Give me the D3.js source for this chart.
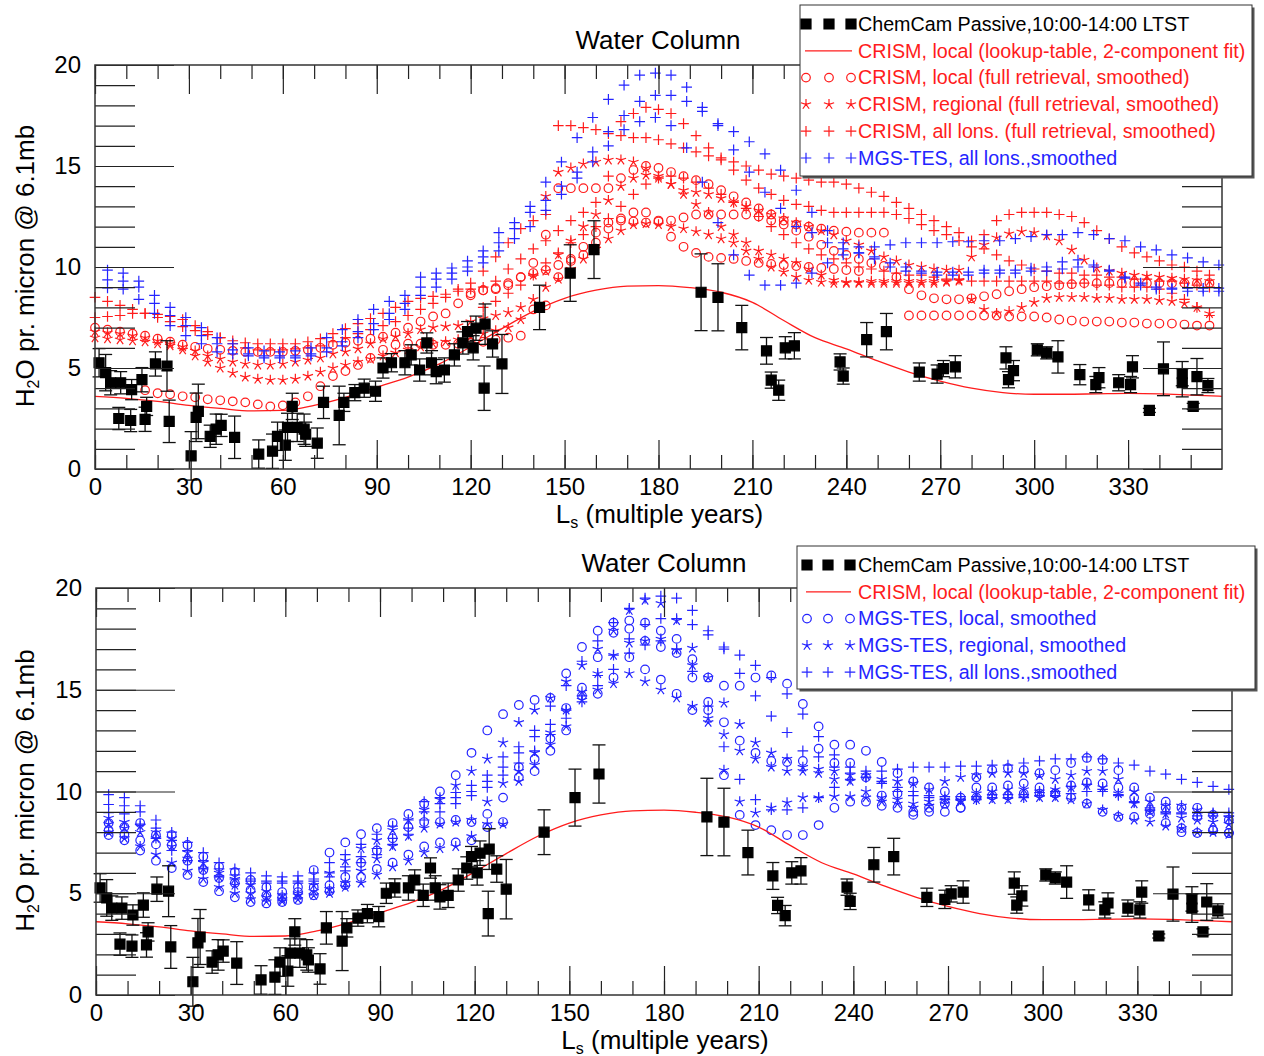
<!DOCTYPE html>
<html>
<head>
<meta charset="utf-8">
<script src="https://cdnjs.cloudflare.com/ajax/libs/d3/7.8.5/d3.min.js"></script>
<style>
body { margin:0; background:#fff; }
text { font-family: "Liberation Sans", Arial, Helvetica, sans-serif; }
</style>
</head>
<body>
<svg id="chart" width="1264" height="1056"></svg>
<script>
// ---- data ----
var lsCrism = d3.range(0, 360, 4);   // CRISM smoothed retrievals, every 4 deg Ls
var lsTes = d3.range(4, 360, 5);     // MGS-TES smoothed, every 5 deg Ls
var xTicks = [0, 30, 60, 90, 120, 150, 180, 210, 240, 270, 300, 330];
var yTicks = [0, 5, 10, 15, 20];

// ChemCam passive (Ls, value, error)
var ccLs = [1.3,3.4,5.0,8.2,11.7,15.0,7.6,11.4,16.5,16.0,19.3,23.0,23.7,30.7,32.3,33.0,36.8,38.7,40.3,44.6,
  52.3,56.7,58.3,60.8,63.0,61.5,64.6,66.8,67.3,71.0,73.0,78.0,79.5,83.0,86.0,89.6,92.0,94.7,99.0,101.0,
  103.7,106.0,107.5,109.0,111.6,114.8,117.5,119.0,121.7,124.6,120.8,127.0,124.3,130.0,142.0,151.8,159.4,193.6,199.0,206.6,
  214.5,216.0,218.4,220.5,223.4,238.0,239.0,246.5,252.8,263.3,269.0,271.0,274.8,291.0,293.4,291.8,301.0,304.0,307.6,314.6,
  319.7,320.7,327.0,330.8,331.4,336.8,341.3,347.3,347.3,350.8,352.0,355.5];
var ccVal = [5.26,4.77,4.27,4.27,3.93,4.42,2.5,2.4,3.1,2.46,5.2,5.1,2.36,0.65,2.56,2.85,1.62,1.97,2.16,1.57,
  0.74,0.88,1.62,1.18,3.1,2.06,2.06,1.97,1.72,1.28,3.3,2.65,3.3,3.78,4.0,3.85,5.0,5.26,5.26,5.65,
  4.9,6.24,5.26,4.82,4.9,5.65,6.24,6.8,6.97,7.17,6.0,6.19,4.0,5.2,8.0,9.7,10.86,8.75,8.5,7.0,
  5.85,4.4,3.9,6.0,6.1,5.3,4.6,6.4,6.8,4.8,4.7,4.97,5.06,5.5,4.87,4.42,5.9,5.75,5.55,4.67,
  4.18,4.52,4.27,4.18,5.06,2.9,4.96,4.72,4.27,3.1,4.57,4.13];
var ccErr = [0.7,0.9,0.6,0.55,0.5,0.6,0.55,0.55,0.45,0.6,0.6,1.25,1.05,1.2,1.2,1.35,0.55,0.75,0.55,1.05,
  0.7,0.85,0.7,0.75,0.65,0.7,0.7,0.75,0.6,0.75,0.8,1.45,0.45,0.4,0.45,0.5,0.5,0.45,0.6,0.5,
  0.55,0.5,0.6,0.6,0.6,0.55,0.55,0.5,0.6,1.0,0.6,0.65,1.1,1.46,1.1,1.4,1.43,1.9,1.66,1.1,
  0.66,0.4,0.5,0.55,0.65,0.4,0.4,0.85,0.9,0.45,0.45,0.4,0.55,0.55,0.5,0.4,0.3,0.3,0.8,0.5,
  0.4,0.5,0.4,0.4,0.55,0.1,1.33,0.6,0.7,0.15,0.9,0.35];

// CRISM local, lookup-table fit (smooth curve)
var lineLs = d3.range(0, 361, 10);
var lineVal = [3.6,3.5,3.35,3.15,3.0,2.88,2.9,3.15,3.55,4.05,4.55,5.2,6.05,6.95,7.8,8.45,8.85,9.05,9.08,8.98,
  8.75,8.25,7.35,6.5,5.95,5.35,4.8,4.35,4.0,3.78,3.7,3.7,3.72,3.74,3.72,3.66,3.6];

// CRISM all lons (plus), three years
var crismAllA = [8.5,8.3,8.1,7.9,7.7,7.5,7.3,7.05,6.85,6.65, 6.5,6.35,6.25,6.2,6.2,6.2,6.2,6.3,6.45,6.7,
  6.95,7.2,7.45,7.7,8.0,8.3,8.45,8.55,8.65,8.9, 9.2,9.8,10.5,11.2,11.9,12.3,12.6,17.0,17.0,16.9,
  16.8,16.6,16.5,16.4,16.4,16.3,16.1,15.9,15.7,15.5, 15.4,15.2,15.0,14.8,14.6,14.5,14.4,14.3,14.2,14.2,
  14.1,13.9,13.7,13.5,13.2,12.9,12.6,12.3,12.0,11.7, 11.3,10.9,10.6,10.3,10.1,9.9,9.8,9.7,9.7,9.6,
  9.6,9.5,9.5,9.4,9.4,9.3,9.3,9.2,9.1,9.0];
var crismAllB = [7.5,7.55,7.6,7.7,7.7,7.65,7.55,7.4,7.1,6.8, 6.5,6.2,6.0,5.9,5.9,5.9,5.95,6.0,6.1,6.3,
  6.5,6.7,6.9,7.1,7.3,7.6,7.9,8.2,8.5,8.8, 8.9,9.0,9.3,9.9,10.4,10.9,11.3,11.8,12.3,12.7,
  13.2,14.5,17.2,17.6,17.9,17.8,17.6,17.1,16.5,15.9, 15.3,14.8,14.3,13.9,13.6,13.3,13.1,13.0,12.8,12.7,
  12.7,12.7,12.7,12.7,12.6,12.4,12.1,11.8,11.6,11.3, 11.0,11.6,12.3,12.6,12.7,12.7,12.7,12.6,12.5,12.2,
  11.8,11.4,11.0,10.7,10.5,10.3,10.1,10.0,9.8,9.6];
var crismAllC = [null,null,null,null,null,null,null,null,null,null, null,null,null,null,null,null,null,null,null,null,
  null,null,null,null,null,null,null,null,null,null, null,8.0,8.3,8.7,9.1,9.6,10.2,10.7,11.2,11.6,
  12.0,12.4,13.0,13.6,14.1,14.4,14.5,14.4,14.2,13.9, 13.6,13.2,12.9,12.5,12.0,11.6,11.2,10.9,10.6,10.4,
  10.2,10.0,9.9,9.8,9.7,9.6,9.6,9.5,9.4,9.4, 9.3,9.3,9.3,9.3,9.3,9.3,9.3,9.2,9.2,9.2,
  9.1,9.1,9.0,9.0,9.0,8.9,8.7,8.4,8.0,7.6];

// CRISM local, full retrieval (circles), three years
var crismLocA = [7.0,6.9,6.8,6.7,6.6,6.45,6.3,6.15,6.05,5.95, 5.9,5.85,5.8,5.8,5.8,5.8,5.85,5.9,6.0,6.15,
  6.25,6.35,6.45,6.55,6.75,7.0,7.3,7.55,7.7,8.2, 8.6,8.85,8.95,9.1,9.5,10.2,11.6,13.9,13.9,13.9,
  13.9,13.9,14.4,14.8,15.0,14.9,14.7,14.5,14.3,14.1, 13.8,13.5,13.2,12.9,12.6,12.3,12.1,12.0,11.9,11.8,
  11.75,11.7,11.7,11.7,null,null,null,null,null,null, null,null,null,null,null,null,null,null,null,null,
  null,null,null,null,null,null,null,null,null,null];
var crismLocB = [null,null,null,null,3.9,3.75,3.7,3.6,3.55,3.45, 3.4,3.35,3.3,3.2,3.1,3.15,3.3,3.6,4.1,4.6,
  4.85,5.15,5.5,5.9,6.15,6.2,6.2,6.15,6.15,6.2, 6.25,6.3,6.4,6.5,6.6,7.9,8.1,9.5,10.4,11.0,
  11.7,12.2,12.3,12.25,12.2,12.25,12.3,12.45,12.6,12.6, 12.6,12.6,12.6,12.5,12.3,12.1,11.8,11.5,11.1,10.8,
  10.6,10.4,10.2,10.05,9.5,8.9,8.6,8.45,8.4,8.4, 8.45,8.55,8.65,8.8,8.9,9.0,9.05,9.1,9.15,9.2,
  9.2,9.2,9.2,9.2,9.2,9.2,9.2,9.2,9.2,9.2];
var crismLocC = [null,null,null,null,null,null,null,null,null,null, null,null,null,null,null,null,null,null,null,null,
  null,null,null,null,null,null,null,null,null,null, 8.7,8.85,8.9,9.2,9.5,9.7,9.85,10.1,10.3,10.6,
  11.2,11.9,12.4,12.7,12.7,12.3,11.5,11.0,10.7,10.5, 10.45,10.4,10.3,10.2,10.15,10.1,10.05,10.0,9.95,9.9,
  9.85,9.8,null,null,null,7.6,7.6,7.6,7.6,7.6, 7.6,7.6,7.6,7.55,7.55,7.55,7.5,7.4,7.35,7.3,
  7.3,7.3,7.25,7.25,7.2,7.2,7.2,7.15,7.1,7.1];

// CRISM regional (stars), three years
var crismRegA = [6.8,6.75,6.7,6.6,6.5,6.35,6.2,6.05,5.85,5.6, 5.45,5.3,5.2,5.15,5.15,5.2,5.3,5.4,5.5,5.7,
  5.8,5.95,6.2,6.45,6.55,6.7,6.9,7.0,7.05,7.1, 7.3,7.45,7.6,7.75,8.0,9.6,13.5,14.7,14.9,15.1,
  15.2,15.3,15.3,15.2,14.9,14.5,14.1,13.8,13.7,13.6, 13.4,13.2,13.0,12.8,12.6,12.4,12.2,12.0,11.8,11.6,
  11.3,11.1,10.8,10.5,10.3,10.1,10.0,9.9,9.85,9.85, 10.5,11.1,11.45,11.65,11.75,11.7,11.55,11.3,10.85,10.35,
  9.95,9.8,9.7,9.6,9.55,9.5,9.45,9.4,9.35,9.3];
var crismRegB = [6.5,6.45,6.4,6.35,6.3,6.2,6.1,5.9,5.6,5.3, 5.0,4.75,4.55,4.45,4.4,4.4,4.45,4.6,4.8,5.0,
  5.15,5.3,5.45,5.6,5.75,5.9,6.05,6.2,6.3,6.4, 6.55,6.7,6.85,7.0,7.4,8.4,9.8,10.6,11.3,12.0,
  12.6,13.3,14.0,14.4,14.55,14.4,14.1,13.6,13.1,12.7, 12.0,11.6,11.2,10.8,10.6,10.4,10.2,9.9,9.6,9.35,
  9.25,9.2,9.2,9.2,9.2,9.2,9.2,9.2,9.25,9.3, 8.4,7.9,7.7,7.8,8.0,8.25,8.45,8.5,8.5,8.5,
  8.45,8.45,8.4,8.4,8.4,8.35,8.3,8.2,8.0,7.7];
var crismRegC = [null,null,null,null,null,null,null,null,null,null, null,null,null,null,null,null,null,null,null,null,
  null,null,null,null,null,null,null,null,null,null, null,null,null,null,null,null,9.0,9.4,9.9,10.4,
  10.9,11.4,11.8,12.1,12.15,12.1,12.0,11.9,11.75,11.6, 11.4,11.2,10.8,10.4,10.0,9.75,9.5,9.35,9.25,9.2,
  9.2,9.25,9.3,9.3,9.3,9.3,9.3,9.3,9.3,9.35, null,null,null,null,null,null,null,null,null,null,
  null,null,null,null,null,null,null,null,null,null];

// MGS-TES all lons (plus), three years
var tesAllA = [9.85,9.7,9.3,8.6,8.0,7.5,7.0,6.5,6.2,6.0, 5.85,5.8,5.85,6.0,6.5,6.9,7.4,7.9,8.3,8.6,
  9.5,9.7,9.95,10.3,10.8,11.7,12.2,13.0,14.2,15.2, 16.4,17.4,18.3,19.0,19.5,19.6,19.5,18.9,17.9,17.1,
  16.7,16.2,15.6,14.8,13.8,12.7,11.8,11.2,11.0,11.0, 11.1,11.2,11.2,11.2,11.25,11.25,11.3,11.3,11.4,11.5,
  11.6,11.6,11.7,11.6,11.4,11.3,11.0,10.85,10.6,10.45, 10.25,10.1];
var tesAllB = [9.36,9.3,9.0,8.2,7.6,7.1,6.6,6.2,5.9,5.7, 5.6,5.6,5.6,5.7,6.0,6.3,6.8,7.2,7.7,8.2,
  9.0,9.4,9.7,10.0,10.5,11.2,11.9,12.7,13.3,14.0, 14.7,15.7,16.7,17.5,18.2,18.5,18.5,18.2,17.7,17.0,
  15.8,14.7,13.7,12.9,12.0,11.7,11.2,10.9,10.7,10.5, 10.2,10.0,9.8,9.75,9.75,9.75,9.85,9.85,9.85,9.95,
  10.0,10.25,10.35,10.1,9.85,9.45,9.1,8.9,8.95,8.95, 8.95,8.95];
var tesAllC = [8.96,8.9,8.4,7.7,7.1,6.6,6.2,5.8,5.7,5.6, 5.5,5.5,5.5,5.6,5.8,6.1,6.5,6.9,7.4,7.9,
  8.6,9.0,9.4,9.8,10.2,10.8,11.4,12.0,12.8,13.6, 14.4,15.2,16.0,16.8,17.2,17.4,17.0,15.9,14.2,12.2,
  10.6,9.6,9.1,9.1,9.2,9.7,10.2,10.6,10.7,10.4, 10.0,9.8,9.7,9.6,9.6,9.6,9.7,9.7,9.7,9.8,
  9.8,9.9,10.0,10.0,9.8,9.5,9.2,9.0,8.9,8.8, 8.8,8.8];

// MGS-TES local (circles), three years
var tesLocA = [8.45,8.26,8.45,7.86,7.86,7.37,6.8,6.3,6.04,5.65, 5.3,5.06,5.3,6.14,7.0,7.5,7.9,8.2,8.45,8.9,
  9.4,10.0,10.8,11.9,13.0,13.8,14.25,14.5,14.6,15.8, 17.1,17.9,18.3,18.4,18.3,17.9,17.5,16.5,15.6,15.2,
  15.2,15.6,15.7,15.3,14.3,13.2,12.3,12.3,12.0,11.45, 10.9,10.5,10.2,10.0,9.7,10.7,11.05,11.15,11.05,10.9,
  11.05,11.4,11.65,11.55,11.05,10.2,9.7,9.5,9.2,9.2, 8.85,8.6];
var tesLocB = [8.1,7.9,7.6,7.4,7.37,6.6,6.14,5.75,5.5,5.16, 4.9,4.8,5.06,5.3,5.4,5.8,6.5,7.1,7.7,8.25,
  8.5,8.5,8.6,8.5,8.9,9.7,11.2,11.6,12.6,14.1, 15.1,16.6,17.8,18.0,17.4,17.1,16.8,15.6,14.4,13.4,
  12.5,11.9,11.5,11.45,11.5,12.1,11.4,11.4,10.7,9.8, 9.9,9.0,9.2,9.4,9.2,10.2,10.2,10.3,10.4,10.2,
  9.9,10.3,10.45,10.4,10.2,9.7,9.1,9.2,8.0,8.75, 8.1,7.96];
var tesLocC = [7.86,7.6,7.1,6.6,6.24,5.9,5.55,5.1,4.8,4.57, 4.5,4.57,4.67,4.9,5.1,5.4,5.8,6.2,6.5,6.9,
  7.3,7.5,7.5,7.6,8.25,8.5,10.7,11.0,12.0,13.0, 14.7,14.8,15.6,16.6,16.0,15.5,14.8,14.0,14.0,10.8,
  8.85,8.35,8.1,7.86,7.86,8.35,9.2,9.5,9.5,9.3, 9.2,8.85,9.0,9.0,9.2,9.7,9.8,9.8,9.9,9.9,
  9.9,9.7,9.4,9.0,8.75,8.75,8.9,8.45,8.2,7.96, 8.1,7.96];

// MGS-TES regional (stars), three years
var tesRegA = [8.7,8.5,8.3,8.0,7.7,7.0,6.5,6.0,5.7,5.4, 5.1,4.9,5.0,5.4,6.0,6.6,7.2,7.6,8.1,8.6,
  9.1,9.6,10.3,11.0,11.6,12.4,13.4,14.0,14.6,15.4, 16.2,17.0,17.9,18.9,19.4,19.25,18.4,17.05,15.6,14.35,
  13.3,12.4,11.9,11.6,11.2,10.9,10.6,10.8,10.8,10.6, 10.5,10.4,10.1,10.5,10.7,10.8,10.9,10.9,10.9,10.8,
  10.6,10.8,11.0,11.0,10.6,10.0,9.5,9.3,9.3,9.1, 8.9,8.7];
var tesRegB = [8.4,8.2,8.0,7.7,7.3,6.7,6.2,5.8,5.4,5.0, 4.8,4.7,4.9,5.1,5.2,5.5,6.1,6.7,7.3,7.8,
  8.2,8.4,8.5,8.6,9.5,10.4,11.0,11.9,12.9,14.0, 14.9,15.8,16.7,17.3,17.4,17.5,16.95,16.2,13.4,12.8,
  12.0,11.6,11.2,11.0,11.0,11.1,11.0,10.5,10.0,9.7, 9.6,9.4,9.5,9.6,9.6,9.9,10.0,10.1,10.1,10.0,
  10.1,10.2,10.3,10.2,9.9,9.4,9.0,8.9,8.7,8.6, 8.5,8.4];
var tesRegC = [8.0,7.7,7.3,6.9,6.5,6.1,5.7,5.3,5.0,4.7, 4.6,4.6,4.7,4.9,5.0,5.3,5.5,5.9,6.3,6.6,
  7.0,7.2,7.3,7.8,8.4,8.4,10.5,11.3,12.3,13.2, 14.5,15.0,15.3,15.8,15.4,15.0,14.6,14.2,13.6,11.05,
  9.5,8.95,9.2,9.45,9.7,9.7,9.75,9.75,9.7,9.5, 9.4,9.2,9.3,9.4,9.5,9.6,9.6,9.6,9.7,9.7,
  9.7,9.6,9.4,9.1,8.8,8.6,8.5,8.3,8.2,8.0, 8.0,7.9];

var RED = '#ff1c1c', BLUE = '#2424ff';

// ---- marker shapes ----
var starPath = '';
for (var k = 0; k < 5; k++) {
  var a = (-90 + k * 72) * Math.PI / 180;
  starPath += 'M0,0L' + (5.4 * Math.cos(a)).toFixed(2) + ',' + (5.4 * Math.sin(a)).toFixed(2);
}
var shapes = {
  plus: 'M-5.3,0H5.3M0,-5.3V5.3',
  circle: 'M4.3,0A4.3,4.3 0 1,1 -4.3,0A4.3,4.3 0 1,1 4.3,0',
  star: starPath,
  square: 'M-5,-5h10v10h-10z'
};

var svg = d3.select('#chart');

function drawMarks(g, xs, vals, x, y, shape, color) {
  var pts = [];
  for (var i = 0; i < vals.length; i++) {
    if (vals[i] != null) pts.push([xs[i], vals[i]]);
  }
  g.append('g').selectAll('path')
    .data(pts)
   .enter().append('path')
    .attr('transform', function(d) { return 'translate(' + x(d[0]) + ',' + y(d[1]) + ')'; })
    .attr('d', shapes[shape])
    .attr('fill', shape == 'square' ? color : 'none')
    .attr('stroke', color)
    .attr('stroke-width', 1.2);
}

function drawChemCam(g, x, y) {
  var idx = d3.range(ccLs.length);
  var eb = g.append('g').attr('stroke', '#111').attr('stroke-width', 1.3);
  idx.forEach(function(i) {
    var px = x(ccLs[i]), y1 = y(ccVal[i] - ccErr[i]), y2 = y(ccVal[i] + ccErr[i]);
    eb.append('line').attr('x1', px).attr('x2', px).attr('y1', y1).attr('y2', y2);
    eb.append('line').attr('x1', px - 6.5).attr('x2', px + 6.5).attr('y1', y1).attr('y2', y1);
    eb.append('line').attr('x1', px - 6.5).attr('x2', px + 6.5).attr('y1', y2).attr('y2', y2);
  });
  drawMarks(g, ccLs, ccVal, x, y, 'square', '#000');
}

function drawAxes(g, x, y, w, h) {
  var minorX = d3.range(0, 360, 10), minorY = d3.range(0, 21, 1);
  g.append('g').attr('transform', 'translate(0,' + h + ')')
    .call(d3.axisBottom(x).tickValues(minorX).tickSize(-14).tickSizeOuter(0).tickFormat(''));
  g.append('g').attr('transform', 'translate(0,' + h + ')')
    .call(d3.axisBottom(x).tickValues(xTicks).tickSize(-29).tickSizeOuter(0).tickPadding(9));
  g.append('g')
    .call(d3.axisTop(x).tickValues(minorX).tickSize(-14).tickSizeOuter(0).tickFormat(''));
  g.append('g')
    .call(d3.axisTop(x).tickValues(xTicks).tickSize(-29).tickSizeOuter(0).tickFormat(''));
  g.append('g')
    .call(d3.axisLeft(y).tickValues(minorY).tickSize(-40).tickSizeOuter(0).tickFormat(''));
  g.append('g')
    .call(d3.axisLeft(y).tickValues(yTicks).tickSize(-79).tickSizeOuter(0).tickPadding(14));
  g.append('g').attr('transform', 'translate(' + w + ',0)')
    .call(d3.axisRight(y).tickValues(minorY).tickSize(-40).tickSizeOuter(0).tickFormat(''));
  g.append('g').attr('transform', 'translate(' + w + ',0)')
    .call(d3.axisRight(y).tickValues(yTicks).tickSize(-79).tickSizeOuter(0).tickFormat(''));
  g.selectAll('.domain').remove();
  g.selectAll('.tick line').attr('stroke', '#222').attr('stroke-width', 1.2);
  g.selectAll('.tick text').attr('font-size', 24).attr('fill', '#000')
    .style('font-family', '"Liberation Sans", Arial, sans-serif');
  g.append('rect').attr('width', w).attr('height', h)
    .attr('fill', 'none').attr('stroke', '#333').attr('stroke-width', 1.5);
}

function drawLegend(x0, y0, w, h, symX, textX, items) {
  var lg = svg.append('g').attr('transform', 'translate(' + x0 + ',' + y0 + ')');
  lg.append('rect').attr('x', 2.5).attr('y', 2.5).attr('width', w).attr('height', h).attr('fill', '#555');
  lg.append('rect').attr('width', w).attr('height', h)
    .attr('fill', '#fff').attr('stroke', '#333').attr('stroke-width', 1);
  items.forEach(function(it, i) {
    var cy = 19 + i * 26.8;
    if (it.shape == 'line') {
      lg.append('line').attr('x1', symX[0] - 1).attr('x2', symX[2] + 1).attr('y1', cy).attr('y2', cy)
        .attr('stroke', it.color).attr('stroke-width', 1.2);
    } else {
      drawMarks(lg, symX, [cy, cy, cy], function(v) { return v; }, function(v) { return v; }, it.shape, it.color);
    }
    lg.append('text').attr('x', textX).attr('y', cy).attr('dy', '0.35em')
      .attr('font-size', 19.7).attr('fill', it.color).text(it.label);
  });
}

function drawPanel(p) {
  var x = d3.scaleLinear().domain([0, 360]).range([0, p.w]);
  var y = d3.scaleLinear().domain([0, 20]).range([p.h, 0]);
  var g = svg.append('g').attr('transform', 'translate(' + p.left + ',' + p.top + ')');

  p.series.forEach(function(s) { drawMarks(g, s.ls, s.vals, x, y, s.shape, s.color); });

  var line = d3.line().curve(d3.curveMonotoneX)
    .x(function(d, i) { return x(lineLs[i]); })
    .y(function(d) { return y(d); });
  g.append('path').datum(lineVal).attr('d', line)
    .attr('fill', 'none').attr('stroke', RED).attr('stroke-width', 1.3);

  drawChemCam(g, x, y);
  drawAxes(g, x, y, p.w, p.h);

  svg.append('text').attr('x', p.titleX).attr('y', p.top - 16).attr('text-anchor', 'middle')
    .attr('font-size', 26).text('Water Column');

  var xl = svg.append('text').attr('x', p.left + p.w / 2 + 1).attr('y', p.top + p.h + 54)
    .attr('text-anchor', 'middle').attr('font-size', 26);
  xl.append('tspan').text('L');
  xl.append('tspan').text('s').attr('font-size', 16).attr('dy', 5);
  xl.append('tspan').text(' (multiple years)').attr('dy', -5);

  var yl = svg.append('text').attr('transform', 'translate(34,' + (p.top + p.h / 2 - 1) + ') rotate(-90)')
    .attr('text-anchor', 'middle').attr('font-size', 26);
  yl.append('tspan').text('H');
  yl.append('tspan').text('2').attr('font-size', 16).attr('dy', 5);
  yl.append('tspan').text('O pr. micron @ 6.1mb').attr('dy', -5);
}

// ---- top panel: CRISM vs ChemCam ----
drawPanel({
  left: 95, top: 65, w: 1127, h: 404, titleX: 658,
  series: [
    {ls: lsCrism, vals: crismLocA, shape: 'circle', color: RED},
    {ls: lsCrism, vals: crismLocB, shape: 'circle', color: RED},
    {ls: lsCrism, vals: crismLocC, shape: 'circle', color: RED},
    {ls: lsCrism, vals: crismRegA, shape: 'star', color: RED},
    {ls: lsCrism, vals: crismRegB, shape: 'star', color: RED},
    {ls: lsCrism, vals: crismRegC, shape: 'star', color: RED},
    {ls: lsCrism, vals: crismAllA, shape: 'plus', color: RED},
    {ls: lsCrism, vals: crismAllB, shape: 'plus', color: RED},
    {ls: lsCrism, vals: crismAllC, shape: 'plus', color: RED},
    {ls: lsTes, vals: tesAllA, shape: 'plus', color: BLUE},
    {ls: lsTes, vals: tesAllB, shape: 'plus', color: BLUE},
    {ls: lsTes, vals: tesAllC, shape: 'plus', color: BLUE}
  ]
});
drawLegend(800, 5, 452, 171, [6, 29, 51], 58, [
  {shape: 'square', color: '#000', label: 'ChemCam Passive,10:00-14:00 LTST'},
  {shape: 'line', color: RED, label: 'CRISM, local (lookup-table, 2-component fit)'},
  {shape: 'circle', color: RED, label: 'CRISM, local (full retrieval, smoothed)'},
  {shape: 'star', color: RED, label: 'CRISM, regional (full retrieval, smoothed)'},
  {shape: 'plus', color: RED, label: 'CRISM, all lons. (full retrieval, smoothed)'},
  {shape: 'plus', color: BLUE, label: 'MGS-TES, all lons.,smoothed'}
]);

// ---- bottom panel: MGS-TES vs ChemCam ----
drawPanel({
  left: 96, top: 588, w: 1136, h: 407, titleX: 664,
  series: [
    {ls: lsTes, vals: tesLocA, shape: 'circle', color: BLUE},
    {ls: lsTes, vals: tesLocB, shape: 'circle', color: BLUE},
    {ls: lsTes, vals: tesLocC, shape: 'circle', color: BLUE},
    {ls: lsTes, vals: tesRegA, shape: 'star', color: BLUE},
    {ls: lsTes, vals: tesRegB, shape: 'star', color: BLUE},
    {ls: lsTes, vals: tesRegC, shape: 'star', color: BLUE},
    {ls: lsTes, vals: tesAllA, shape: 'plus', color: BLUE},
    {ls: lsTes, vals: tesAllB, shape: 'plus', color: BLUE},
    {ls: lsTes, vals: tesAllC, shape: 'plus', color: BLUE}
  ]
});
drawLegend(797, 546, 458, 143, [10, 31, 53], 61, [
  {shape: 'square', color: '#000', label: 'ChemCam Passive,10:00-14:00 LTST'},
  {shape: 'line', color: RED, label: 'CRISM, local (lookup-table, 2-component fit)'},
  {shape: 'circle', color: BLUE, label: 'MGS-TES, local, smoothed'},
  {shape: 'star', color: BLUE, label: 'MGS-TES, regional, smoothed'},
  {shape: 'plus', color: BLUE, label: 'MGS-TES, all lons.,smoothed'}
]);
</script>
</body>
</html>
